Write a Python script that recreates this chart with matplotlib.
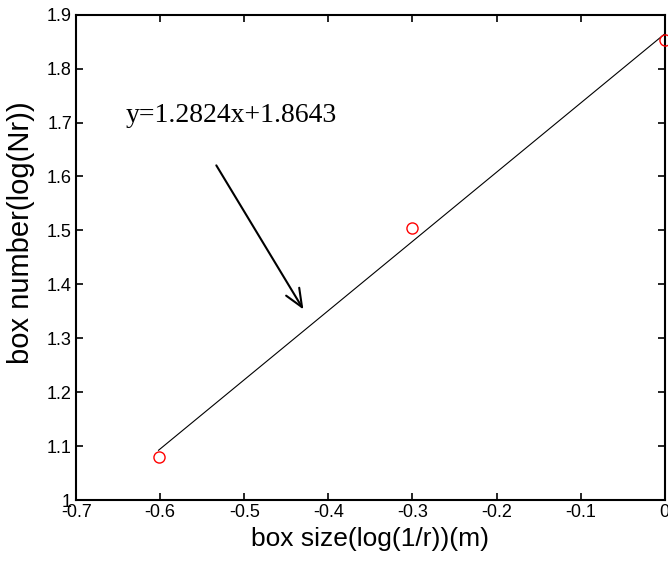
import numpy as np
import matplotlib
matplotlib.use("Agg")
import matplotlib.pyplot as plt
from matplotlib.ticker import FuncFormatter

# box-counting results: log(1/r) vs log(Nr)
box_size = [-0.602, -0.301, 0.0]
box_number = [1.08, 1.505, 1.853]

# least-squares fit reported in the label
slope = 1.2824
intercept = 1.8643

xticks = [-0.7, -0.6, -0.5, -0.4, -0.3, -0.2, -0.1, 0.0]
yticks = [1.0, 1.1, 1.2, 1.3, 1.4, 1.5, 1.6, 1.7, 1.8, 1.9]

fig = plt.figure(figsize=(6.68, 5.65), dpi=100)
ax = fig.add_axes([0.114, 0.115, 0.881, 0.859])

xfit = np.array([box_size[0], box_size[-1]])
ax.plot(xfit, slope * xfit + intercept, color="black", lw=0.8)
ax.plot(box_size, box_number, "o", mfc="none", mec="red", ms=8, mew=1.0, clip_on=False, zorder=5)

ax.annotate("", xy=(-0.428, 1.349), xytext=(-0.535, 1.625),
            arrowprops=dict(arrowstyle="->,head_length=1.3,head_width=0.55", color="black", lw=1.5))
ax.text(-0.641, 1.713, f"y={slope}x+{intercept}", fontsize=20, family="Liberation Serif",
        ha="left", va="center")

ax.set_xlim(-0.7, 0)
ax.set_ylim(1.0, 1.9)
ax.set_xticks(xticks)
ax.set_yticks(yticks)
fmt = FuncFormatter(lambda v, p: f"{v:g}")
ax.xaxis.set_major_formatter(fmt)
ax.yaxis.set_major_formatter(fmt)
ax.tick_params(direction="in", length=5, width=1.2, top=True, right=True, labelsize=13, pad=3)
for lab in ax.get_xticklabels() + ax.get_yticklabels():
    lab.set_family("Liberation Sans")
for s in ax.spines.values():
    s.set_linewidth(1.5)

ax.set_xlabel("box size(log(1/r))(m)", fontsize=19, family="Liberation Sans", labelpad=4)
ax.set_ylabel("box number(log(Nr))", fontsize=21, family="Liberation Sans")
ax.yaxis.set_label_coords(-0.07, 0.55)

fig.savefig("out.png", dpi=100)
